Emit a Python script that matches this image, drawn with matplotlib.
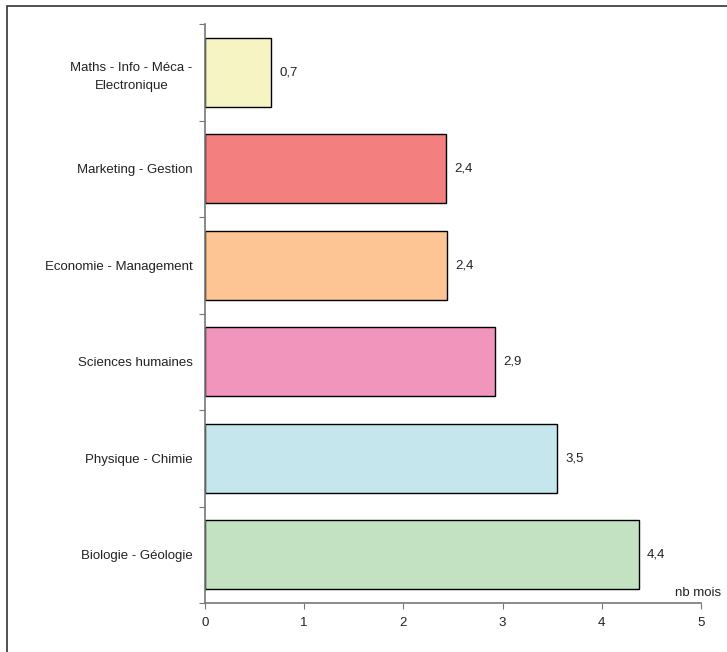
import numpy as np
import matplotlib
matplotlib.use("Agg")
import matplotlib.pyplot as plt
from matplotlib.patches import Rectangle

# Data (bottom to top)
categories = ["Biologie - Géologie", "Physique - Chimie", "Sciences humaines",
              "Economie - Management", "Marketing - Gestion",
              "Maths - Info - Méca -\nElectronique"]
values = [4.37, 3.55, 2.92, 2.44, 2.43, 0.67]
labels = ["4,4", "3,5", "2,9", "2,4", "2,4", "0,7"]
colors = ["#C3E2C1", "#C5E6EC", "#F295BD", "#FDC593", "#F47F7F", "#F7F4C4"]
xticks = [0, 1, 2, 3, 4, 5]

plt.rcParams['font.family'] = ['Liberation Sans', 'DejaVu Sans']
W, H = 727, 652
fig = plt.figure(figsize=(W / 100, H / 100), dpi=100)

# outer frame (right and bottom edges fall outside the picture)
fig.patches.append(Rectangle((7 / W, -0.1), 1.2, 1.1 - 6 / H, transform=fig.transFigure,
                             fill=False, edgecolor="#333333", linewidth=1.2))

ax = fig.add_axes([205 / W, 1 - 603 / H, (701 - 205) / W, (603 - 24) / H])
y = np.arange(len(categories))
ax.barh(y, values, height=0.715, color=colors, edgecolor="black", linewidth=1)

for yi, v, lab in zip(y, values, labels):
    ax.annotate(lab, (v, yi), xytext=(6, 0), textcoords="offset points",
                va="center", ha="left", fontsize=9.5, color="#222222")

ax.set_xlim(0, 5)
ax.set_ylim(-0.5, len(categories) - 0.5)
ax.set_xticks(xticks)
ax.set_xticklabels([str(t) for t in xticks], fontsize=9.5, color="#222222")

ax.set_yticks(np.arange(-0.5, len(categories), 1.0))
ax.set_yticklabels([])
ax.set_yticks(y, minor=True)
ax.set_yticklabels(categories, minor=True, fontsize=9.5, color="#222222",
                   multialignment="center", linespacing=1.7)
ax.tick_params(axis="y", which="minor", length=0, pad=9)
ax.tick_params(axis="y", which="major", length=4, color="#777777", direction="out")
ax.tick_params(axis="x", length=4, color="#777777", direction="out", pad=6)

for s in ["top", "right"]:
    ax.spines[s].set_visible(False)
for s in ["left", "bottom"]:
    ax.spines[s].set_color("#777777")
    ax.spines[s].set_linewidth(1.2)

fig.text(721 / W, 1 - 593 / H, "nb mois", ha="right", va="center", fontsize=9.5,
         color="#222222")

fig.savefig("out.png", dpi=100)
